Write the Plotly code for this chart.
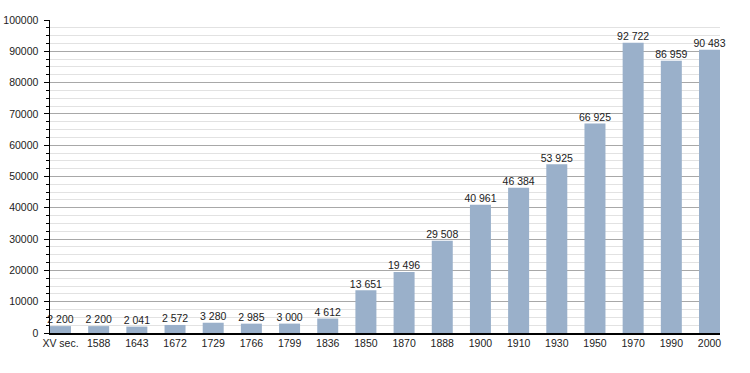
import plotly.graph_objects as go

categories = ["XV sec.", "1588", "1643", "1672", "1729", "1766", "1799", "1836", "1850",
              "1870", "1888", "1900", "1910", "1930", "1950", "1970", "1990", "2000"]
values = [2200, 2200, 2041, 2572, 3280, 2985, 3000, 4612, 13651,
          19496, 29508, 40961, 46384, 53925, 66925, 92722, 86959, 90483]
y_ticks = [0, 10000, 20000, 30000, 40000, 50000, 60000, 70000, 80000, 90000, 100000]

labels = [f"{v:,}".replace(",", " ") for v in values]
FONT = "Liberation Sans, Arial, sans-serif"
FS = 10.5

fig = go.Figure()
fig.add_trace(go.Bar(
    x=categories, y=values,
    marker=dict(color="#9ab0ca", line=dict(width=0)),
    hoverinfo="skip",
))
fig.add_trace(go.Scatter(
    x=categories, y=values, text=labels, mode="text", textposition="top center",
    textfont=dict(family=FONT, size=FS, color="#222"),
    cliponaxis=False, hoverinfo="skip",
))

fig.update_layout(
    width=750, height=373,
    margin=dict(l=50, r=30, t=20, b=40),
    plot_bgcolor="white", paper_bgcolor="white",
    bargap=0.45, showlegend=False,
    font=dict(family=FONT, size=FS, color="#222"),
)
fig.update_xaxes(
    type="category", range=[-0.275, 17.275], automargin=False,
    showline=True, linecolor="black", linewidth=1.5,
    ticks="", showgrid=False, tickfont=dict(family=FONT, size=FS, color="#222"),
)
fig.update_yaxes(
    range=[0, 100000], tickvals=y_ticks, ticktext=[str(t) for t in y_ticks],
    automargin=False, ticklabelstandoff=3,
    showline=True, linecolor="black", linewidth=1.5,
    ticks="outside", ticklen=5, tickcolor="black",
    showgrid=True, gridcolor="#a8a8a8", gridwidth=1,
    minor=dict(dtick=2500, tick0=0, showgrid=True, gridcolor="#e2e2e2",
               ticks="outside", ticklen=3, tickcolor="black"),
    zeroline=False, tickfont=dict(family=FONT, size=FS, color="#222"),
)

fig.write_html("out.html", config={"displayModeBar": False, "staticPlot": True},
               post_script="document.body.style.margin='0';")
